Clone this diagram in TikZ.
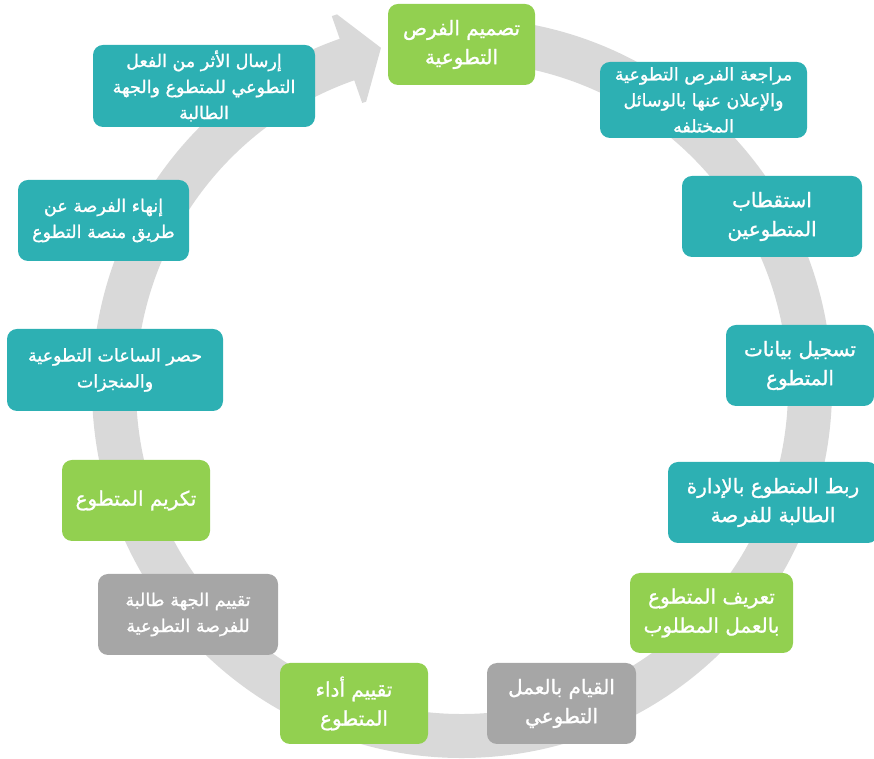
\documentclass[tikz,border=0pt]{standalone}
\usepackage{fontspec}
\newfontfamily\arabicfont[Script=Arabic,FakeBold=1.2]{DejaVu Sans}
\TeXXeTstate=1
\usetikzlibrary{calc}
\definecolor{boxgreen}{RGB}{146,208,80}
\definecolor{boxteal}{RGB}{45,176,179}
\definecolor{boxgrey}{RGB}{166,166,166}
\definecolor{ringgrey}{RGB}{217,217,217}
\newcommand{\arl}[1]{\beginR #1\endR}
\tikzset{
  box/.style={rounded corners=10pt, text=white, align=center, inner sep=0pt},
  bigtxt/.style={font={\arabicfont\fontsize{20}{29}\selectfont}},
  smalltxt/.style={font={\arabicfont\fontsize{17.5}{26}\selectfont}},
  gbox/.style={box, fill=boxgreen},
  tbox/.style={box, fill=boxteal},
  ybox/.style={box, fill=boxgrey},
  ring/.style={draw=ringgrey, line width=44pt},
}
\begin{document}
\begin{tikzpicture}[x=1pt,y=1pt]
\useasboundingbox (0,0) rectangle (874,759);
\coordinate (C) at (462,371);
% ring with arrow
\draw[ring] ($(C)+(95:348)$) arc[start angle=95, end angle=-251, radius=348];
\fill[ringgrey] ($(C)+(108.5:394)$) -- ($(C)+(103.4:349.7)$) -- ($(C)+(108.5:302)$) -- ($(C)+(109.3:302)$) -- ($(C)+(109.3:394)$) -- cycle;
% boxes
\node[gbox, bigtxt, minimum width=147pt, minimum height=81pt] (n1) at (461.5,714.5) {\arl{تصميم الفرص}\\\arl{التطوعية}};
\node[tbox, smalltxt, minimum width=207pt, minimum height=76pt] (n2) at (703.5,659) {\arl{مراجعة الفرص التطوعية}\\\arl{والإعلان عنها بالوسائل}\\\arl{المختلفه}};
\node[tbox, bigtxt, minimum width=180pt, minimum height=81pt] (n3) at (772,542.5) {\arl{استقطاب}\\\arl{المتطوعين}};
\node[tbox, bigtxt, minimum width=148pt, minimum height=81pt] (n4) at (800,393.5) {\arl{تسجيل بيانات}\\\arl{المتطوع}};
\node[tbox, bigtxt, minimum width=210pt, minimum height=81pt] (n5) at (773,256.5) {\arl{ربط المتطوع بالإدارة}\\\arl{الطالبة للفرصة}};
\node[gbox, bigtxt, minimum width=163pt, minimum height=80pt] (n6) at (711.5,146) {\arl{تعريف المتطوع}\\\arl{بالعمل المطلوب}};
\node[ybox, bigtxt, minimum width=149pt, minimum height=81pt] (n7) at (561.5,55.5) {\arl{القيام بالعمل}\\\arl{التطوعي}};
\node[gbox, bigtxt, minimum width=148pt, minimum height=81pt] (n8) at (354,55.5) {\arl{تقييم أداء}\\\arl{المتطوع}};
\node[ybox, smalltxt, minimum width=180pt, minimum height=81pt] (n9) at (188,144.5) {\arl{تقييم الجهة طالبة}\\\arl{للفرصة التطوعية}};
\node[gbox, bigtxt, minimum width=148pt, minimum height=81pt] (n10) at (136,258.5) {\arl{تكريم المتطوع}};
\node[tbox, smalltxt, minimum width=216pt, minimum height=82pt] (n11) at (115,389) {\arl{حصر الساعات التطوعية}\\\arl{والمنجزات}};
\node[tbox, smalltxt, minimum width=171pt, minimum height=81pt] (n12) at (103.5,538.5) {\arl{إنهاء الفرصة عن}\\\arl{طريق منصة التطوع}};
\node[tbox, smalltxt, minimum width=222pt, minimum height=82pt] (n13) at (204,673) {\arl{إرسال الأثر من الفعل}\\\arl{التطوعي للمتطوع والجهة}\\\arl{الطالبة}};
\end{tikzpicture}
\end{document}
